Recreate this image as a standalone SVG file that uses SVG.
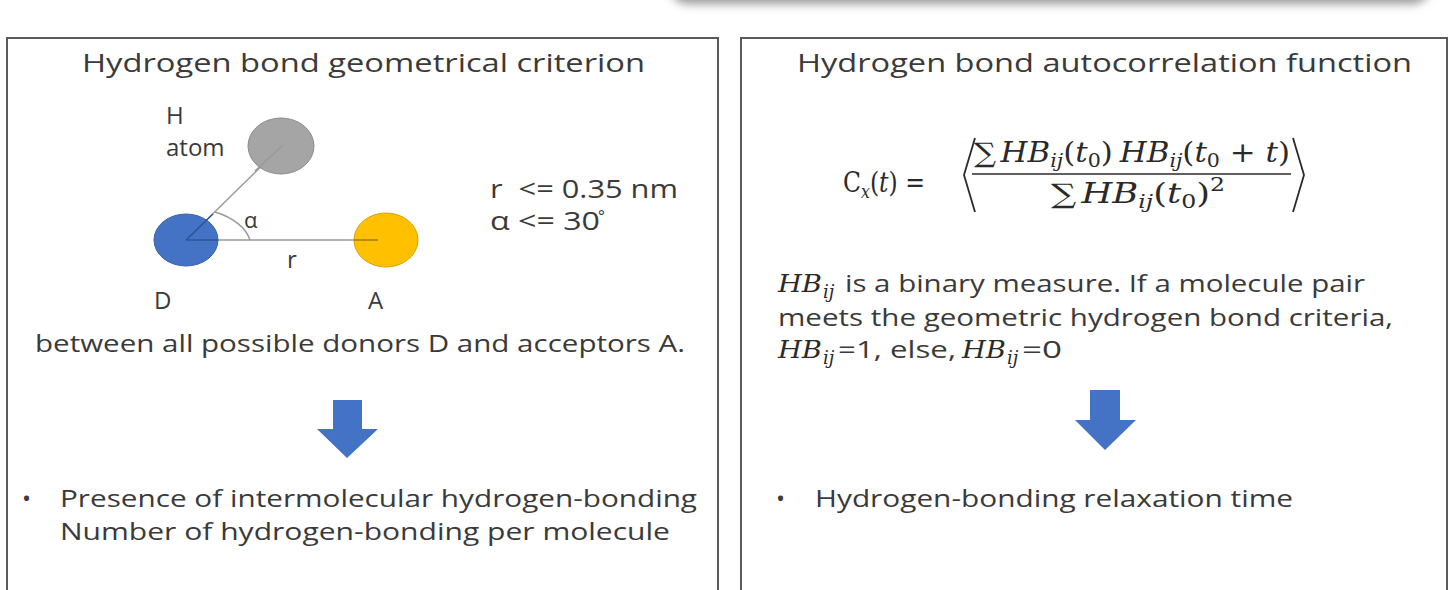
<svg xmlns="http://www.w3.org/2000/svg" width="1450" height="590" viewBox="0 0 1450 590">
<style>
.panel{fill:#fff;stroke:#5a5a5a;stroke-width:2}
.t{font-family:"Open Sans","Noto Sans","Liberation Sans",sans-serif;fill:#3a3a3a}
.title{font-size:26px}
.body{font-size:24px}
.m{font-family:"DejaVu Serif","Liberation Serif",serif;fill:#2a2a2a;font-size:27px}
.md{font-family:"DejaVu Serif","Liberation Serif",serif;fill:#2a2a2a;font-size:24px;font-style:italic}
.mi{font-style:italic}
.sub{font-size:18px;font-style:italic}
.arrow{fill:#4472c4}
.bond{stroke:#9a9a9a;stroke-width:1.5;fill:none}
</style>
<defs>
<filter id="blur" x="-10%" y="-50%" width="120%" height="200%"><feGaussianBlur stdDeviation="5"/></filter>
</defs>
<rect width="1450" height="590" fill="#fff"/>
<g id="top-shadow">
<rect x="670" y="-40" width="760" height="44" rx="18" fill="#9a9a9a" filter="url(#blur)"/>
<rect x="670" y="-40" width="760" height="40" rx="18" fill="#fff"/>
</g>
<g id="panel-left">
<rect class="panel" x="7" y="38" width="711" height="570"/>
<text class="t title" x="82" y="72" textLength="563" lengthAdjust="spacingAndGlyphs">Hydrogen bond geometrical criterion</text>
</g>
<g id="panel-right">
<rect class="panel" x="741" y="38" width="706" height="570"/>
<text class="t title" x="797" y="72" textLength="615" lengthAdjust="spacingAndGlyphs">Hydrogen bond autocorrelation function</text>
</g>
<g id="connectors">
<line class="bond" x1="186" y1="240" x2="283" y2="145"/>
<line class="bond" x1="186" y1="240" x2="380" y2="240"/>
<path class="bond" d="M 215 212 A 64 40 0 0 1 250 240" stroke="#777"/>
</g>
<g id="atom-H">
<ellipse cx="281" cy="146" rx="33" ry="28" fill="#a5a5a5" stroke="#8c8c8c" stroke-width="1"/>
<line class="bond" x1="255" y1="171" x2="283" y2="145"/>
<text class="t body" x="166" y="124">H</text>
<text class="t body" x="166" y="156">atom</text>
</g>
<g id="atom-D">
<ellipse cx="186" cy="240" rx="32" ry="26" fill="#4472c4" stroke="#3a63ad" stroke-width="1"/>
<line x1="186" y1="240" x2="213" y2="214" stroke="#2b4f8f" stroke-width="1.2"/>
<line x1="186" y1="240" x2="218" y2="240" stroke="#2b4f8f" stroke-width="1.2"/>
<text class="t body" x="154" y="309">D</text>
</g>
<g id="atom-A">
<ellipse cx="386" cy="240" rx="32" ry="27" fill="#ffc000" stroke="#d9a300" stroke-width="1"/>
<line x1="354" y1="240" x2="378" y2="240" stroke="#8a6a10" stroke-width="1.2"/>
<text class="t body" x="368" y="309">A</text>
</g>
<g id="labels-left">
<text class="t" x="244" y="228" font-size="22" font-family="DejaVu Serif,serif">α</text>
<text class="t body" x="287" y="268">r</text>
<text class="t" font-size="25" x="490" y="198" xml:space="preserve" textLength="188" lengthAdjust="spacingAndGlyphs">r  &lt;= 0.35 nm</text>
<text class="t" font-size="25" x="490" y="230" textLength="110" lengthAdjust="spacingAndGlyphs">α &lt;= 30</text>
<text class="t" x="598" y="222" font-size="16">°</text>
<text class="t body" x="35" y="352" textLength="650" lengthAdjust="spacingAndGlyphs">between all possible donors D and acceptors A.</text>
</g>
<g id="arrow-left">
<path class="arrow" d="M333 400 H362 V429 H378 L347 458 L317 429 H333 Z"/>
</g>
<g id="result-left">
<text class="t body" x="22" y="507">•</text>
<text class="t body" x="60" y="507" textLength="637" lengthAdjust="spacingAndGlyphs">Presence of intermolecular hydrogen-bonding</text>
<text class="t body" x="60" y="540" textLength="610" lengthAdjust="spacingAndGlyphs">Number of hydrogen-bonding per molecule</text>
</g>
<g id="formula">
<text class="m" x="843" y="192" textLength="82" lengthAdjust="spacingAndGlyphs">C<tspan class="sub" dy="6">x</tspan><tspan dy="-6">(</tspan><tspan class="mi">t</tspan>) =</text>
<polyline points="975,138 964,175 975,212" fill="none" stroke="#2a2a2a" stroke-width="1.8"/>
<polyline points="1293,138 1304,175 1293,212" fill="none" stroke="#2a2a2a" stroke-width="1.8"/>
<text class="m" x="974" y="162" textLength="316" lengthAdjust="spacingAndGlyphs">∑<tspan class="mi" dx="4">HB</tspan><tspan class="sub" dy="5">ij</tspan><tspan dy="-5">(</tspan><tspan class="mi">t</tspan><tspan font-size="18" dy="5">0</tspan><tspan dy="-5">)</tspan><tspan class="mi" dx="6">HB</tspan><tspan class="sub" dy="5">ij</tspan><tspan dy="-5">(</tspan><tspan class="mi">t</tspan><tspan font-size="18" dy="5">0</tspan><tspan dy="-5"> + </tspan><tspan class="mi">t</tspan>)</text>
<line x1="972" y1="174" x2="1291" y2="174" stroke="#2a2a2a" stroke-width="1.5"/>
<text class="m" x="1051" y="203" textLength="174" lengthAdjust="spacingAndGlyphs">∑<tspan class="mi" dx="4">HB</tspan><tspan class="sub" dy="5">ij</tspan><tspan dy="-5">(</tspan><tspan class="mi">t</tspan><tspan font-size="18" dy="5">0</tspan><tspan dy="-5">)</tspan><tspan font-size="18" dy="-12">2</tspan></text>
</g>
<g id="description">
<text class="md" x="778" y="292" textLength="44" lengthAdjust="spacingAndGlyphs">HB</text>
<text class="m sub" font-size="17" x="823" y="298">ij</text>
<text class="t body" x="845" y="292" textLength="520" lengthAdjust="spacingAndGlyphs">is a binary measure. If a molecule pair</text>
<text class="t body" x="778" y="326" textLength="615" lengthAdjust="spacingAndGlyphs">meets the geometric hydrogen bond criteria,</text>
<text class="md" x="778" y="358" textLength="44" lengthAdjust="spacingAndGlyphs">HB</text>
<text class="m sub" font-size="17" x="823" y="364">ij</text>
<text class="t body" x="838" y="358" textLength="118" lengthAdjust="spacingAndGlyphs">=1, else,</text>
<text class="md" x="962" y="358" textLength="44" lengthAdjust="spacingAndGlyphs">HB</text>
<text class="m sub" font-size="17" x="1007" y="364">ij</text>
<text class="t body" x="1022" y="358" textLength="40" lengthAdjust="spacingAndGlyphs">=0</text>
</g>
<g id="arrow-right">
<path class="arrow" d="M1090 390 H1120 V420 H1136 L1105 450 L1075 420 H1090 Z"/>
</g>
<g id="result-right">
<text class="t body" x="776" y="507">•</text>
<text class="t body" x="815" y="507" textLength="478" lengthAdjust="spacingAndGlyphs">Hydrogen-bonding relaxation time</text>
</g>
</svg>
